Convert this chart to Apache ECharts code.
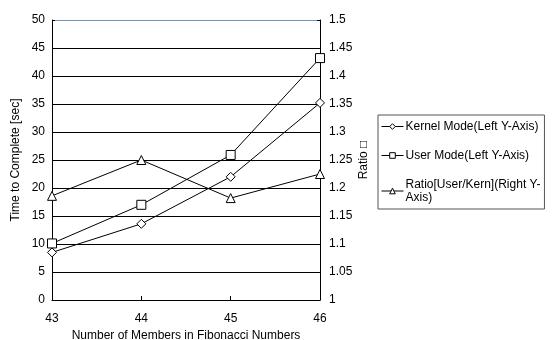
<!DOCTYPE html>
<html><head><meta charset="utf-8">
<script src="https://cdn.jsdelivr.net/npm/echarts@6/dist/echarts.min.js"></script>
<style>html,body{margin:0;padding:0;background:#fff}#c{width:556px;height:340px}</style>
</head><body><div id="c"></div>
<script>
const categories = ['43', '44', '45', '46'];
const kernelMode = [8.5, 13.6, 22.0, 35.2];
const userMode = [10.1, 17.0, 25.9, 43.2];
const ratio = [1.186, 1.25, 1.182, 1.225];
const seriesNames = ['Kernel Mode(Left Y-Axis)', 'User Mode(Left Y-Axis)', 'Ratio[User/Kern](Right Y-Axis)'];

const font = 'Liberation Sans, Arial, sans-serif';
const chart = echarts.init(document.getElementById('c'));
const lineStyle = { color: '#000', width: 1 };
const itemStyle = { color: '#fff', borderColor: '#000', borderWidth: 1 };
const gridColors = ['#000','#000','#000','#000','#000','#000','#000','#000','#000','#000','#8090a8'];
chart.setOption({
  animation: false,
  backgroundColor: '#fff',
  textStyle: { fontFamily: font },
  grid: { left: 52, right: 236, top: 20, bottom: 40, show: false, outerBoundsMode: 'none', containLabel: false },
  legend: {
    orient: 'vertical', left: 378, top: 115,
    itemGap: 16, itemWidth: 22, itemHeight: 7,
    borderColor: '#555', borderWidth: 1, padding: [5, 4, 5, 3],
    lineStyle: { width: 1, color: '#000' },
    itemStyle: { color: '#fff', borderColor: '#000', borderWidth: 1 },
    textStyle: { fontSize: 12, color: '#000', fontFamily: font, lineHeight: 13, padding: [0, 0, 0, -3] },
    formatter: function (n) { return n === seriesNames[2] ? 'Ratio[User/Kern](Right Y-\nAxis)' : n; },
    data: seriesNames
  },
  xAxis: {
    type: 'category', data: categories, boundaryGap: false,
    name: 'Number of Members in Fibonacci Numbers', nameLocation: 'middle', nameGap: 29,
    nameTextStyle: { fontSize: 12, color: '#000', fontFamily: font },
    axisLine: { lineStyle: { color: '#000', width: 1 } },
    axisTick: { inside: true, length: 4, lineStyle: { color: '#000' } },
    axisLabel: { fontSize: 12, color: '#000', margin: 13, fontFamily: font },
    splitLine: { show: false }
  },
  yAxis: [{
    type: 'value', min: 0, max: 50, interval: 5,
    name: 'Time to Complete [sec]', nameLocation: 'middle', nameGap: 30,
    nameTextStyle: { fontSize: 12, color: '#000', fontFamily: font },
    axisLine: { show: true, lineStyle: { color: '#000', width: 1 } },
    axisTick: { show: true, inside: true, length: 3, lineStyle: { color: '#000' } },
    axisLabel: { fontSize: 12, color: '#000', margin: 7, fontFamily: font },
    splitLine: { show: true, lineStyle: { color: gridColors, width: 1 } }
  }, {
    type: 'value', min: 1, max: 1.5, interval: 0.05, position: 'right',
    name: 'Ratio □', nameLocation: 'middle', nameGap: 38, nameRotate: 90,
    nameTextStyle: { fontSize: 12, color: '#000', fontFamily: font },
    axisLine: { show: true, lineStyle: { color: '#000', width: 1 } },
    axisTick: { show: true, inside: true, length: 3, lineStyle: { color: '#000' } },
    axisLabel: { fontSize: 12, color: '#000', margin: 9, fontFamily: font,
      formatter: function (v) { return String(Math.round(v * 100) / 100); } },
    splitLine: { show: false }
  }],
  series: [{
    name: seriesNames[0], type: 'line', data: kernelMode, yAxisIndex: 0,
    symbol: 'diamond', symbolSize: 9, lineStyle, itemStyle
  }, {
    name: seriesNames[1], type: 'line', data: userMode, yAxisIndex: 0,
    symbol: 'rect', symbolSize: 9, lineStyle, itemStyle
  }, {
    name: seriesNames[2], type: 'line', data: ratio, yAxisIndex: 1,
    symbol: 'triangle', symbolSize: 9, lineStyle, itemStyle
  }]
});
</script></body></html>
